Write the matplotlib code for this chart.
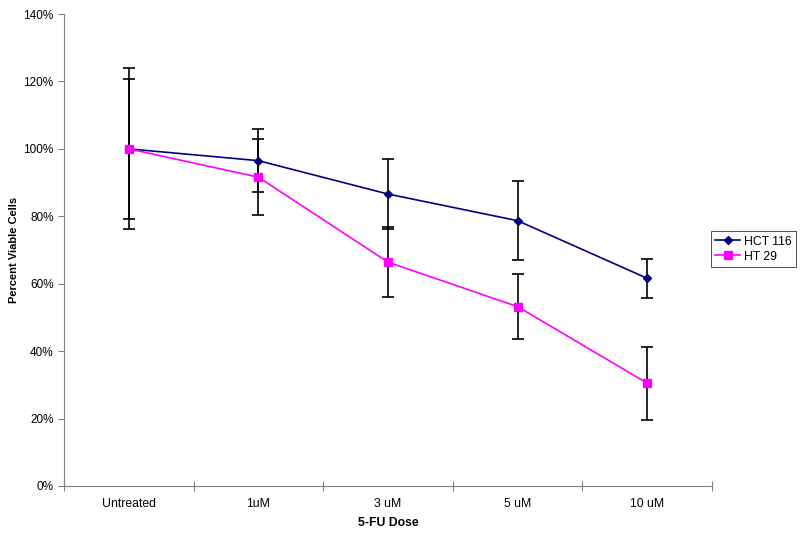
import matplotlib
matplotlib.use("Agg")
import matplotlib.pyplot as plt
from matplotlib.ticker import FuncFormatter, FixedLocator

plt.rcParams['font.family'] = ['Liberation Sans', 'DejaVu Sans']

categories = ["Untreated", "1uM", "3 uM", "5 uM", "10 uM"]
hct116 = [100.0, 96.5, 86.6, 78.7, 61.6]
hct116_err = [20.7, 9.3, 10.5, 11.7, 5.8]
ht29 = [100.0, 91.6, 66.4, 53.2, 30.5]
ht29_err = [23.9, 11.2, 10.3, 9.6, 10.8]

fig = plt.figure(figsize=(8.0, 5.33), dpi=100)
ax = fig.add_axes([0.08, 0.0882, 0.81, 0.8855])

x = list(range(len(categories)))
ax.errorbar(x, hct116, yerr=hct116_err, fmt='none', ecolor='black',
            elinewidth=1.2, capsize=4, capthick=1.2, zorder=2)
ax.errorbar(x, ht29, yerr=ht29_err, fmt='none', ecolor='black',
            elinewidth=1.2, capsize=4, capthick=1.2, zorder=2)
ax.plot(x, hct116, color='#000080', marker='D', markersize=4.5, lw=1.2,
        label='HCT 116', zorder=3)
ax.plot(x, ht29, color='#FF00FF', marker='s', markersize=6, lw=1.2,
        label='HT 29', zorder=3)

ax.set_xlim(-0.5, len(categories) - 0.5)
ax.set_ylim(0, 140)
ax.set_yticks(range(0, 141, 20))
ax.yaxis.set_major_formatter(FuncFormatter(lambda v, p: f"{int(v)}%"))

ax.xaxis.set_major_locator(FixedLocator([i - 0.5 for i in range(len(categories) + 1)]))
ax.xaxis.set_major_formatter(FuncFormatter(lambda v, p: ""))
ax.xaxis.set_minor_locator(FixedLocator(x))
ax.set_xticklabels(categories, minor=True)
ax.tick_params(axis='x', which='minor', length=0, pad=9, labelsize=8.8)
ax.tick_params(axis='x', which='major', direction='inout', length=7, color='#808080')
ax.tick_params(axis='y', direction='out', length=4, color='#808080', labelsize=8.5)

for s in ['top', 'right']:
    ax.spines[s].set_visible(False)
for s in ['left', 'bottom']:
    ax.spines[s].set_color('#808080')
    ax.spines[s].set_linewidth(0.8)

ax.set_xlabel("5-FU Dose", fontsize=8.8, fontweight='bold', labelpad=5)
ax.set_ylabel("Percent Viable Cells", fontsize=8, fontweight='bold', labelpad=3)

leg = ax.legend(loc='center left', bbox_to_anchor=(0.998, 0.502), fontsize=8.8,
                frameon=True, fancybox=False, edgecolor='black', handlelength=2.05,
                borderpad=0.35, labelspacing=0.25, handletextpad=0.3, borderaxespad=0)
leg.get_frame().set_linewidth(0.6)

fig.savefig("out.png", dpi=100)
